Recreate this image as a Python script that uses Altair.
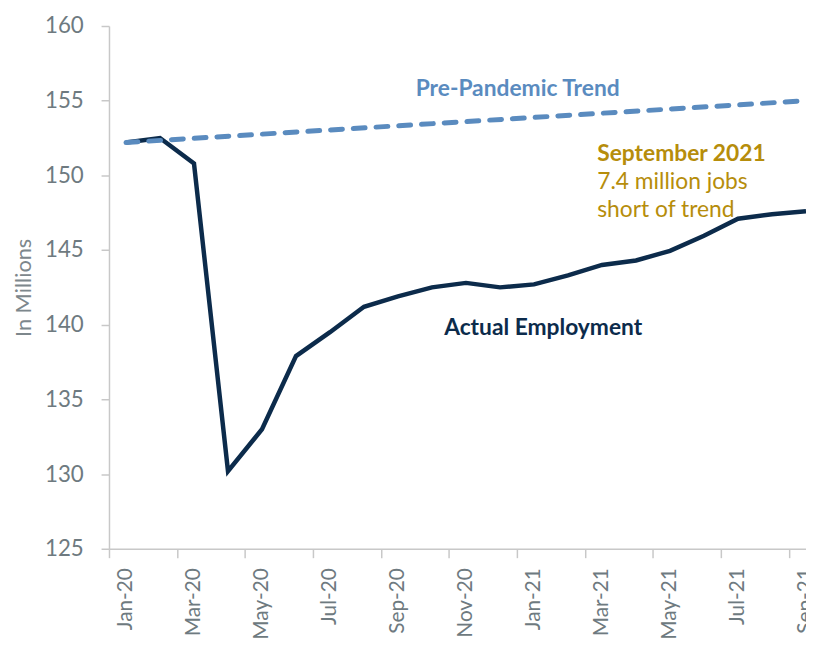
import altair as alt
import pandas as pd

months = ["Jan-20", "Feb-20", "Mar-20", "Apr-20", "May-20", "Jun-20", "Jul-20",
          "Aug-20", "Sep-20", "Oct-20", "Nov-20", "Dec-20", "Jan-21", "Feb-21",
          "Mar-21", "Apr-21", "May-21", "Jun-21", "Jul-21", "Aug-21", "Sep-21"]
actual = [152.2, 152.5, 150.8, 130.2, 133.0, 137.9, 139.5, 141.2, 141.9, 142.5,
          142.8, 142.5, 142.7, 143.3, 144.0, 144.3, 144.95, 145.95, 147.1, 147.4, 147.6]
trend_months = ["Jan-20", "Sep-21"]
trend = [152.2, 155.0]

y_ticks = [125, 130, 135, 140, 145, 150, 155, 160]
label_idx = [0, 2, 4, 6, 8, 10, 12, 14, 16, 18, 20]

ann_text = ["Pre-Pandemic Trend", "September 2021", "7.4 million jobs", "short of trend", "Actual Employment"]
ann_x = [11.52, 13.86, 13.86, 13.86, 12.27]
ann_y = [155.76, 151.45, 149.53, 147.67, 139.78]

NAVY = "#0C2B4B"
BLUE = "#5A8BBF"
GOLD = "#B68D0B"
GRAY = "#6E7A80"
FONT = "Lato"

df = pd.DataFrame({"idx": list(range(len(months))), "month": months, "value": actual})
tdf = pd.DataFrame({"idx": [months.index(m) for m in trend_months], "value": trend})

W = 704
H = 528
band = W / 20.5

label_expr = "[" + ",".join("'%s'" % m for m in months) + "][datum.value]"

x_enc = alt.X("idx:Q",
              scale=alt.Scale(domain=[-0.5, 20.0], nice=False, zero=False),
              axis=alt.Axis(values=label_idx, labelExpr=label_expr, title=None,
                            grid=False, labelAngle=270, labelAlign="right",
                            labelBaseline="middle", labelFontSize=21, labelFont=FONT,
                            labelColor=GRAY, labelPadding=10, tickSize=9,
                            tickOffset=-band / 2, labelOffset=band / 2,
                            tickColor="#C8C8C8", tickWidth=1.5,
                            domainColor="#C8C8C8", domainWidth=1.5,
                            labelOverlap=False, labelBound=False, labelFlush=False))
y_enc = alt.Y("value:Q",
              scale=alt.Scale(domain=[125, 160], nice=False, zero=False),
              axis=alt.Axis(values=y_ticks, title="In Millions", grid=False,
                            labelFontSize=22.5, labelFont=FONT, labelColor=GRAY,
                            labelPadding=18, tickSize=8, tickColor="#C8C8C8",
                            tickWidth=1.5, domainColor="#C8C8C8", domainWidth=1.5,
                            titleFont=FONT, titleFontSize=22, titleFontWeight="normal",
                            titleColor="#7D878C", titlePadding=9))

actual_line = alt.Chart(df).mark_line(color=NAVY, strokeWidth=4.5).encode(x=x_enc, y=y_enc)

trend_line = alt.Chart(tdf).mark_line(color=BLUE, strokeWidth=5, strokeDash=[12, 11],
                                      strokeCap="round").encode(x="idx:Q", y="value:Q")

adf = pd.DataFrame({"text": ann_text, "x": ann_x, "y": ann_y,
                    "kind": ["trend", "gold_b", "gold", "gold", "actual"]})

t_trend = alt.Chart(adf[adf.kind == "trend"]).mark_text(
    font=FONT, fontSize=23, fontWeight="bold", color=BLUE, align="center",
    baseline="middle").encode(x="x:Q", y="y:Q", text="text:N")
t_gold_b = alt.Chart(adf[adf.kind == "gold_b"]).mark_text(
    font=FONT, fontSize=23, fontWeight="bold", color=GOLD, align="left",
    baseline="middle").encode(x="x:Q", y="y:Q", text="text:N")
t_gold = alt.Chart(adf[adf.kind == "gold"]).mark_text(
    font=FONT, fontSize=23, color=GOLD, align="left",
    baseline="middle").encode(x="x:Q", y="y:Q", text="text:N")
t_actual = alt.Chart(adf[adf.kind == "actual"]).mark_text(
    font=FONT, fontSize=23, fontWeight="bold", color=NAVY, align="center",
    baseline="middle").encode(x="x:Q", y="y:Q", text="text:N")

chart = alt.layer(actual_line, trend_line, t_trend, t_gold_b, t_gold, t_actual).properties(
    width=W, height=H,
    autosize=alt.AutoSizeParams(type="none"),
    padding={"left": 102, "top": 15, "right": 0, "bottom": 92},
).configure_view(stroke=None)

chart.save("out.html", embed_options={"renderer": "svg", "actions": False})
